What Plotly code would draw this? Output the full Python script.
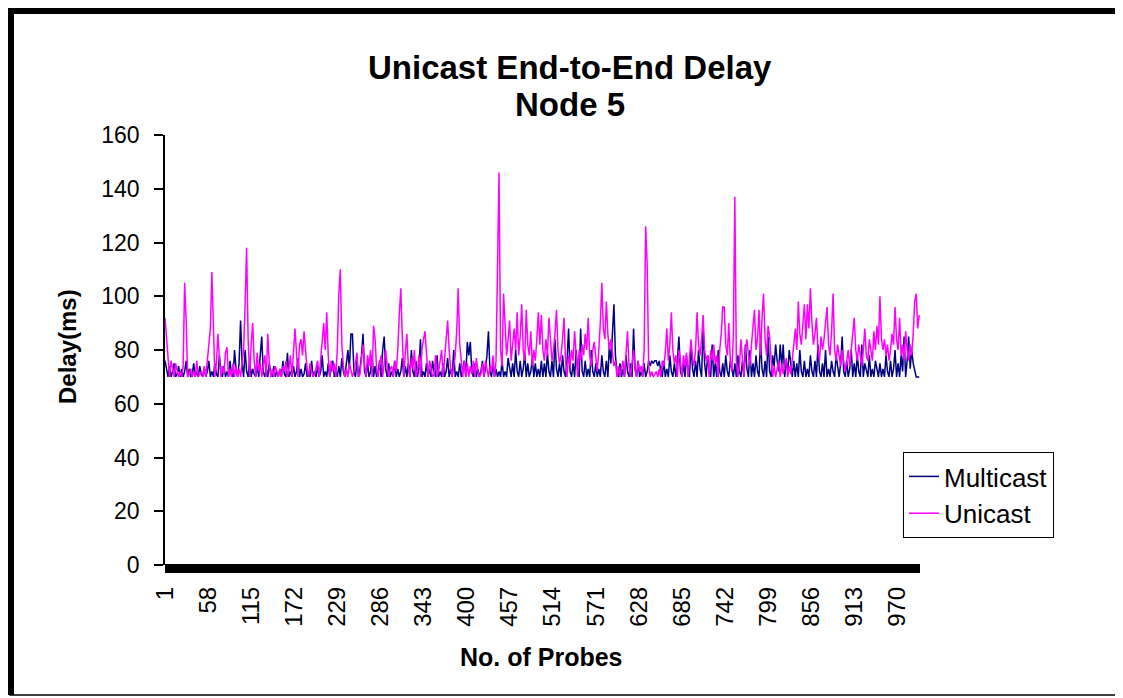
import plotly.graph_objects as go

# Probes are plotted every other probe (1, 3, 5, ... 999)
PROBES = list(range(1, 1000, 2))

MULTICAST = [
    76, 72, 70, 74, 70, 72, 75, 70, 71, 74, 70, 73, 70, 72, 76, 70, 73, 70, 71, 75, 70, 72, 70, 74, 71,
    70, 73, 70, 72, 76, 70, 72, 70, 75, 71, 70, 78, 72, 70, 74, 70, 72, 70, 76, 71, 70, 80, 73, 70, 75,
    91, 75, 70, 80, 72, 70, 76, 70, 73, 71, 70, 74, 70, 78, 85, 72, 70, 73, 70, 75, 71, 70, 74, 70, 72,
    70, 73, 70, 76, 71, 70, 79, 70, 72, 70, 74, 70, 72, 77, 70, 73, 70, 71, 75, 70, 72, 70, 76, 70, 72,
    70, 74, 70, 72, 78, 70, 72, 70, 75, 70, 73, 76, 70, 72, 70, 74, 70, 77, 72, 70, 75, 80, 73, 86, 86,
    72, 70, 76, 70, 73, 78, 86, 72, 70, 75, 70, 72, 78, 70, 74, 70, 72, 76, 70, 80, 85, 73, 70, 75, 70,
    72, 70, 76, 70, 73, 70, 72, 77, 70, 74, 70, 75, 70, 80, 72, 70, 76, 70, 73, 84, 70, 72, 70, 75, 70,
    73, 70, 76, 72, 70, 78, 70, 72, 70, 75, 70, 72, 77, 70, 73, 70, 80, 70, 72, 70, 75, 70, 73, 76, 70,
    83, 78, 83, 72, 70, 75, 70, 73, 70, 72, 76, 70, 73, 78, 87, 72, 70, 75, 70, 73, 70, 72, 70, 76, 70,
    72, 70, 77, 73, 70, 75, 70, 80, 72, 70, 76, 70, 73, 79, 70, 75, 70, 72, 77, 70, 75, 70, 73, 70, 76,
    70, 75, 70, 79, 72, 70, 76, 70, 84, 73, 70, 75, 70, 78, 72, 70, 76, 88, 72, 70, 75, 70, 80, 73, 70,
    88, 72, 70, 76, 70, 73, 70, 80, 72, 70, 75, 70, 73, 70, 78, 72, 70, 76, 70, 82, 75, 86, 97, 78, 72,
    70, 75, 70, 73, 70, 78, 72, 70, 75, 70, 88, 73, 70, 76, 70, 72, 70, 75, 70, 72, 76, 74, 76, 75, 76,
    76, 74, 76, 72, 70, 76, 70, 73, 70, 78, 72, 70, 75, 70, 76, 85, 72, 70, 75, 70, 78, 72, 70, 82, 73,
    70, 76, 70, 80, 73, 70, 89, 75, 70, 78, 72, 70, 82, 70, 75, 70, 80, 72, 70, 75, 70, 78, 72, 70, 76,
    72, 70, 75, 70, 78, 72, 70, 76, 70, 82, 73, 70, 80, 70, 75, 70, 78, 72, 70, 84, 73, 70, 76, 70, 85,
    72, 70, 78, 74, 82, 76, 72, 82, 74, 82, 70, 76, 72, 80, 74, 70, 76, 70, 75, 70, 80, 72, 70, 76, 70,
    73, 70, 78, 72, 70, 76, 70, 82, 72, 70, 75, 70, 80, 70, 73, 70, 76, 72, 70, 78, 73, 70, 75, 85, 72,
    70, 76, 70, 73, 80, 70, 75, 70, 78, 72, 70, 82, 70, 75, 72, 70, 78, 70, 73, 70, 76, 72, 70, 75, 70,
    73, 70, 78, 72, 70, 76, 70, 73, 80, 70, 75, 70, 78, 72, 85, 70, 76, 85, 73, 80, 75, 72, 70, 70, 70,
]

UNICAST = [
    92, 84, 78, 70, 76, 72, 70, 75, 73, 70, 72, 70, 74, 105, 91, 70, 71, 73, 70, 72, 70, 76, 70, 71, 72,
    70, 74, 70, 76, 80, 88, 109, 84, 70, 75, 86, 77, 70, 74, 71, 79, 81, 70, 73, 70, 75, 70, 74, 70, 73,
    70, 76, 80, 97, 118, 84, 70, 82, 90, 76, 70, 79, 72, 75, 70, 74, 78, 70, 86, 75, 70, 73, 70, 74, 72,
    70, 73, 70, 74, 72, 76, 70, 73, 78, 70, 80, 88, 79, 70, 82, 84, 78, 87, 80, 73, 70, 75, 72, 70, 71,
    73, 76, 70, 78, 82, 90, 80, 94, 78, 70, 76, 72, 75, 70, 80, 101, 110, 82, 74, 70, 73, 70, 75, 72, 70,
    72, 76, 79, 70, 71, 77, 82, 75, 70, 78, 74, 80, 70, 89, 84, 73, 70, 75, 78, 70, 76, 80, 74, 70, 73,
    74, 70, 76, 72, 80, 93, 103, 85, 70, 79, 86, 74, 70, 77, 73, 80, 70, 72, 78, 70, 80, 84, 87, 79, 70,
    76, 72, 70, 71, 78, 70, 72, 76, 80, 70, 78, 84, 91, 80, 73, 70, 75, 78, 87, 103, 82, 74, 70, 76, 70,
    75, 70, 74, 71, 76, 70, 77, 72, 70, 71, 75, 70, 76, 73, 70, 74, 72, 78, 70, 76, 109, 146, 80, 74, 101,
    91, 78, 84, 91, 76, 82, 88, 80, 94, 78, 85, 97, 80, 76, 95, 82, 78, 87, 74, 80, 76, 84, 94, 82, 93,
    80, 76, 84, 78, 92, 82, 76, 80, 86, 95, 80, 75, 78, 84, 92, 76, 70, 78, 74, 80, 76, 87, 78, 70, 80,
    76, 82, 78, 86, 80, 92, 78, 74, 80, 83, 76, 72, 80, 90, 105, 88, 84, 98, 86, 80, 84, 78, 74, 76, 70,
    74, 70, 73, 76, 70, 78, 87, 74, 70, 75, 80, 73, 70, 76, 72, 74, 70, 80, 126, 112, 74, 70, 72, 70, 71,
    72, 70, 73, 70, 76, 74, 79, 88, 76, 82, 94, 80, 75, 78, 70, 80, 76, 70, 78, 74, 79, 70, 76, 84, 77,
    74, 80, 94, 82, 78, 84, 93, 80, 76, 78, 70, 80, 76, 82, 75, 78, 70, 80, 86, 96, 96, 82, 78, 90, 76,
    72, 85, 137, 76, 70, 74, 84, 76, 70, 80, 84, 78, 74, 82, 88, 95, 80, 84, 95, 78, 92, 101, 84, 78, 89,
    85, 76, 70, 74, 70, 73, 76, 70, 75, 71, 74, 77, 70, 74, 71, 78, 82, 88, 80, 98, 86, 82, 90, 97, 84,
    97, 88, 103, 90, 82, 86, 92, 80, 76, 85, 80, 84, 90, 96, 82, 78, 87, 101, 80, 76, 82, 78, 74, 80, 76,
    72, 76, 80, 74, 82, 86, 92, 80, 76, 82, 78, 74, 80, 88, 78, 76, 84, 80, 76, 87, 80, 89, 82, 100, 84,
    80, 84, 78, 82, 76, 80, 86, 82, 96, 84, 80, 92, 78, 82, 76, 87, 80, 76, 82, 78, 86, 98, 101, 88, 93,
]

X_TICKS = [1, 58, 115, 172, 229, 286, 343, 400, 457, 514, 571, 628, 685, 742, 799, 856, 913, 970]
Y_TICKS = [0, 20, 40, 60, 80, 100, 120, 140, 160]

# The page body has an 8px margin; lay out in reference pixels and compensate.
OFF = 8
W, H = 1123 - OFF, 698 - OFF
L, R, T, B = 165, 920, 135, 565  # plot area in reference pixels

def px(x):
    return (x - L) / (R - L)

def py(y):
    return (B - y) / (B - T)

FONT = "Liberation Sans, Arial, sans-serif"

fig = go.Figure()
fig.add_trace(go.Scatter(x=PROBES, y=MULTICAST, mode="lines", name="Multicast",
                         line=dict(color="#000080", width=1.5)))
fig.add_trace(go.Scatter(x=PROBES, y=UNICAST, mode="lines", name="Unicast",
                         line=dict(color="#FF00FF", width=1.5)))

shapes = [
    # thick x-axis bar
    dict(type="rect", xref="paper", yref="paper", x0=0, x1=1, y0=py(573), y1=py(564),
         fillcolor="black", line=dict(width=0), layer="above"),
    # outer frame (thin)
    dict(type="rect", xref="paper", yref="paper", x0=px(10), x1=px(1120), y0=py(695), y1=py(10),
         line=dict(color="black", width=1.5), fillcolor="rgba(0,0,0,0)"),
    # thick top and left frame
    dict(type="line", xref="paper", yref="paper", x0=px(8), x1=px(1120), y0=py(11), y1=py(11),
         line=dict(color="black", width=6)),
    dict(type="line", xref="paper", yref="paper", x0=px(11), x1=px(11), y0=py(8), y1=py(695),
         line=dict(color="black", width=6)),
]

annotations = [
    dict(text="<b>Unicast End-to-End Delay</b>", xref="paper", yref="paper", x=px(570), y=py(67),
         showarrow=False, xanchor="center", yanchor="middle", font=dict(family=FONT, size=33, color="black")),
    dict(text="<b>Node 5</b>", xref="paper", yref="paper", x=px(570), y=py(104),
         showarrow=False, xanchor="center", yanchor="middle", font=dict(family=FONT, size=33, color="black")),
    dict(text="<b>Delay(ms)</b>", xref="paper", yref="paper", x=px(67), y=py(347), textangle=-90,
         showarrow=False, xanchor="center", yanchor="middle", font=dict(family=FONT, size=24, color="black")),
    dict(text="<b>No. of Probes</b>", xref="paper", yref="paper", x=px(541), y=py(657),
         showarrow=False, xanchor="center", yanchor="middle", font=dict(family=FONT, size=25, color="black")),
]

fig.update_layout(
    width=W, height=H,
    margin=dict(l=L - OFF, r=W - (R - OFF), t=T - OFF, b=H - (B - OFF), pad=0),
    paper_bgcolor="white", plot_bgcolor="white",
    font=dict(family=FONT, size=23, color="black"),
    showlegend=True,
    legend=dict(x=px(903), y=py(452), xanchor="left", yanchor="top",
                bordercolor="black", borderwidth=1, bgcolor="white",
                font=dict(family=FONT, size=26, color="black"), tracegroupgap=0),
    xaxis=dict(range=[1, 1000], tickmode="array", tickvals=X_TICKS,
               ticktext=[str(v) for v in X_TICKS], tickangle=-90, showgrid=False,
               zeroline=False, showline=False, ticks="", ticklabelstandoff=16,
               tickfont=dict(size=24)),
    yaxis=dict(range=[0, 160], tickmode="array", tickvals=Y_TICKS, showgrid=False,
               zeroline=False, showline=True, linecolor="black", linewidth=1.5,
               ticks="outside", ticklen=9, tickcolor="black", tickwidth=1.5,
               ticklabelstandoff=10, tickfont=dict(size=23)),
    shapes=shapes,
    annotations=annotations,
)

fig.write_html("out.html")
